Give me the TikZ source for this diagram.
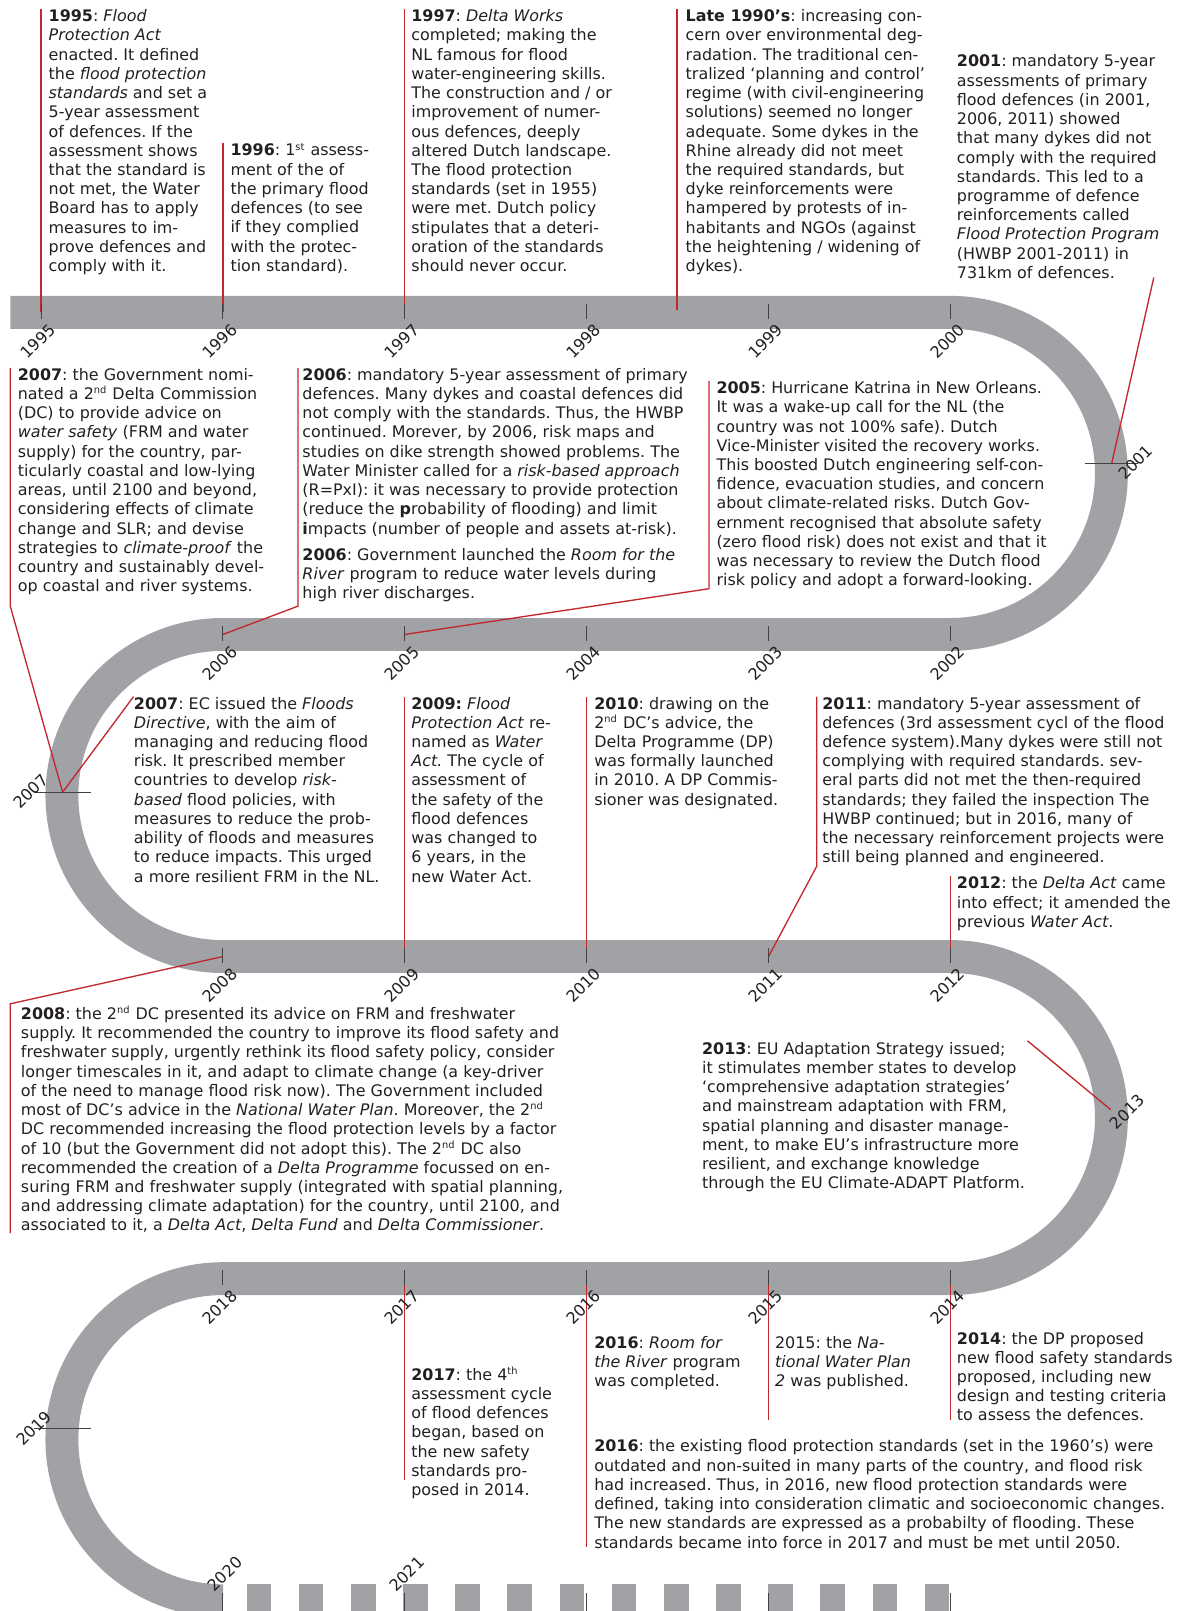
\documentclass[tikz,border=0pt]{standalone}
\usepackage{fontspec}
\setmainfont{DejaVu Sans}
\frenchspacing

\definecolor{trackgray}{RGB}{161,162,166}
\definecolor{calloutred}{RGB}{193,39,45}
\definecolor{inkgray}{RGB}{35,31,32}

% small raised ordinal endings
\newcommand{\ordsup}[1]{\textsuperscript{\fontsize{4.8}{5}\selectfont #1}}

\begin{document}
\begin{tikzpicture}[x=0.5pt, y=0.5pt,
  track/.style={line width=16pt, trackgray},
  callout/.style={calloutred, line width=0.65pt},
  tick/.style={inkgray!85, line width=0.5pt},
  yearlabel/.style={rotate=45, inner sep=0pt, text=inkgray, font=\fontsize{7.8}{9}\selectfont},
  event/.style={anchor=north west, align=left, inner sep=0pt, text=inkgray, font=\fontsize{7.75}{9.35}\selectfont}]

\useasboundingbox (0,0) rectangle (1145,-1568);
\clip (0,0) rectangle (1145,-1568);

% The winding track
\draw[track] (10,-304) -- (925,-304)
  arc[start angle=90, end angle=-90, radius=156.75] -- (217,-617.5)
  arc[start angle=90, end angle=270, radius=156.75] -- (925,-931)
  arc[start angle=90, end angle=-90, radius=156.75] -- (217,-1244.5)
  arc[start angle=90, end angle=270, radius=156.75];
% future years, dashed
\foreach \i in {0,...,13}
  \fill[trackgray] ({240+50.77*\i},-1542) rectangle ++(24,-32);

% Year positions on the track
\foreach \yr [count=\i from 0] in {1995,...,2000}
  \coordinate (y\yr) at ({40+177*\i},-304);
\foreach \yr [count=\i from 0] in {2002,...,2006}
  \coordinate (y\yr) at ({925-177*\i},-617.5);
\foreach \yr [count=\i from 0] in {2008,...,2012}
  \coordinate (y\yr) at ({217+177*\i},-931);
\foreach \yr [count=\i from 0] in {2014,...,2018}
  \coordinate (y\yr) at ({925-177*\i},-1244.5);
\coordinate (y2020) at (217,-1558);
\coordinate (y2021) at (394,-1558);
\coordinate (y2001) at (1082,-451);
\coordinate (y2007) at (61,-771);
\coordinate (y2013) at (1081,-1080);
\coordinate (y2019) at (61,-1390);
\coordinate (late90) at (659,-302);

% Events
\node[event] (e1995) at (47,-9) {\textbf{1995}: \emph{Flood}\\
\emph{Protection Act}\\
enacted. It defined\\
the \emph{flood protection}\\
\emph{standards} and set a\\
5-year assessment\\
of defences. If the\\
assessment shows\\
that the standard is\\
not met, the Water\\
Board has to apply\\
measures to im-\\
prove defences and\\
comply with it.};

\node[event] (e1996) at (224,-139) {\textbf{1996}: 1\ordsup{st} assess-\\
ment of the of\\
the primary flood\\
defences (to see\\
if they complied\\
with the protec-\\
tion standard).};

\node[event] (e1997) at (400,-9) {\textbf{1997}: \emph{Delta Works}\\
completed; making the\\
NL famous for flood\\
water-engineering skills.\\
The construction and / or\\
improvement of numer-\\
ous defences, deeply\\
altered Dutch landscape.\\
The flood protection\\
standards (set in 1955)\\
were met. Dutch policy\\
stipulates that a deteri-\\
oration of the standards\\
should never occur.};

\node[event] (e1998) at (667,-9) {\textbf{Late 1990’s}: increasing con-\\
cern over environmental deg-\\
radation. The traditional cen-\\
tralized ‘planning and control’\\
regime (with civil-engineering\\
solutions) seemed no longer\\
adequate. Some dykes in the\\
Rhine already did not meet\\
the required standards, but\\
dyke reinforcements were\\
hampered by protests of in-\\
habitants and NGOs (against\\
the heightening / widening of\\
dykes).};

\node[event] (e2001) at (931,-53) {\textbf{2001}: mandatory 5-year\\
assessments of primary\\
flood defences (in 2001,\\
2006, 2011) showed\\
that many dykes did not\\
comply with the required\\
standards. This led to a\\
programme of defence\\
reinforcements called\\
\emph{Flood Protection Program}\\
(HWBP 2001-2011) in\\
731km of defences.};

\node[event] (e2007a) at (17,-358) {\textbf{2007}: the Government nomi-\\
nated a 2\ordsup{nd} Delta Commission\\
(DC) to provide advice on\\
\emph{water safety} (FRM and water\\
supply) for the country, par-\\
ticularly coastal and low-lying\\
areas, until 2100 and beyond,\\
considering effects of climate\\
change and SLR; and devise\\
strategies to \emph{climate-proof} the\\
country and sustainably devel-\\
op coastal and river systems.};

\node[event] (e2006) at (294,-358) {\textbf{2006}: mandatory 5-year assessment of primary\\
defences. Many dykes and coastal defences did\\
not comply with the standards. Thus, the HWBP\\
continued. Morever, by 2006, risk maps and\\
studies on dike strength showed problems. The\\
Water Minister called for a \emph{risk-based approach}\\
(R=PxI): it was necessary to provide protection\\
(reduce the \textbf{p}robability of flooding) and limit\\
\textbf{i}mpacts (number of people and assets at-risk).\\[3.5pt]
\textbf{2006}: Government launched the \emph{Room for the}\\
\emph{River} program to reduce water levels during\\
high river discharges.};

\node[event] (e2005) at (697,-371) {\textbf{2005}: Hurricane Katrina in New Orleans.\\
It was a wake-up call for the NL (the\\
country was not 100\% safe). Dutch\\
Vice-Minister visited the recovery works.\\
This boosted Dutch engineering self-con-\\
fidence, evacuation studies, and concern\\
about climate-related risks. Dutch Gov-\\
ernment recognised that absolute safety\\
(zero flood risk) does not exist and that it\\
was necessary to review the Dutch flood\\
risk policy and adopt a forward-looking.};

\node[event] (e2007b) at (130,-678) {\textbf{2007}: EC issued the \emph{Floods}\\
\emph{Directive}, with the aim of\\
managing and reducing flood\\
risk. It prescribed member\\
countries to develop \emph{risk-}\\
\emph{based} flood policies, with\\
measures to reduce the prob-\\
ability of floods and measures\\
to reduce impacts. This urged\\
a more resilient FRM in the NL.};

\node[event] (e2009) at (400,-678) {\textbf{2009:} \emph{Flood}\\
\emph{Protection Act} re-\\
named as \emph{Water}\\
\emph{Act.} The cycle of\\
assessment of\\
the safety of the\\
flood defences\\
was changed to\\
6 years, in the\\
new Water Act.};

\node[event] (e2010) at (578,-678) {\textbf{2010}: drawing on the\\
2\ordsup{nd} DC’s advice, the\\
Delta Programme (DP)\\
was formally launched\\
in 2010. A DP Commis-\\
sioner was designated.};

\node[event] (e2011) at (800,-678) {\textbf{2011}: mandatory 5-year assessment of\\
defences (3rd assessment cycl of the flood\\
defence system).Many dykes were still not\\
complying with required standards. sev-\\
eral parts did not met the then-required\\
standards; they failed the inspection The\\
HWBP continued; but in 2016, many of\\
the necessary reinforcement projects were\\
still being planned and engineered.};

\node[event] (e2012) at (931,-853) {\textbf{2012}: the \emph{Delta Act} came\\
into effect; it amended the\\
previous \emph{Water Act}.};

\node[event] (e2008) at (20,-979) {\textbf{2008}: the 2\ordsup{nd} DC presented its advice on FRM and freshwater\\
supply. It recommended the country to improve its flood safety and\\
freshwater supply, urgently rethink its flood safety policy, consider\\
longer timescales in it, and adapt to climate change (a key-driver\\
of the need to manage flood risk now). The Government included\\
most of DC’s advice in the \emph{National Water Plan}. Moreover, the 2\ordsup{nd}\\
DC recommended increasing the flood protection levels by a factor\\
of 10 (but the Government did not adopt this). The 2\ordsup{nd} DC also\\
recommended the creation of a \emph{Delta Programme} focussed on en-\\
suring FRM and freshwater supply (integrated with spatial planning,\\
and addressing climate adaptation) for the country, until 2100, and\\
associated to it, a \emph{Delta Act}, \emph{Delta Fund} and \emph{Delta Commissioner}.};

\node[event] (e2013) at (683,-1014) {\textbf{2013}: EU Adaptation Strategy issued;\\
it stimulates member states to develop\\
‘comprehensive adaptation strategies’\\
and mainstream adaptation with FRM,\\
spatial planning and disaster manage-\\
ment, to make EU’s infrastructure more\\
resilient, and exchange knowledge\\
through the EU Climate-ADAPT Platform.};

\node[event] (e2017) at (400,-1330) {\textbf{2017}: the 4\ordsup{th}\\
assessment cycle\\
of flood defences\\
began, based on\\
the new safety\\
standards pro-\\
posed in 2014.};

\node[event] (e2016a) at (578,-1300) {\textbf{2016}: \emph{Room for}\\
\emph{the River} program\\
was completed.};

\node[event] (e2015) at (754,-1300) {2015: the \emph{Na-}\\
\emph{tional Water Plan}\\
\emph{2} was published.};

\node[event] (e2014) at (931,-1296) {\textbf{2014}: the DP proposed\\
new flood safety standards\\
proposed, including new\\
design and testing criteria\\
to assess the defences.};

\node[event] (e2016b) at (578,-1401) {\textbf{2016}: the existing flood protection standards (set in the 1960’s) were\\
outdated and non-suited in many parts of the country, and flood risk\\
had increased. Thus, in 2016, new flood protection standards were\\
defined, taking into consideration climatic and socioeconomic changes.\\
The new standards are expressed as a probabilty of flooding. These\\
standards became into force in 2017 and must be met until 2050.};

% Bends of the callout lines
\coordinate (k2007) at (10,-590);
\coordinate (k2006) at (290,-590);
\coordinate (k2005) at (690,-573);
\coordinate (k2011) at (795,-843);
\coordinate (k2008) at (10,-977);
\coordinate (c2001) at (1123,-270);
\coordinate (c2013) at (1000,-1013);

% Callout lines
\draw[callout] (y1995) -- (y1995 |- e1995.north);
\draw[callout] (y1996) -- (y1996 |- e1996.north);
\draw[callout] (y1997) -- (y1997 |- e1997.north);
\draw[callout] (late90) -- (late90 |- e1998.north);
\draw[callout] (y2001) -- (c2001);
\draw[callout] (y2007) -- (k2007) -- (k2007 |- e2007a.north);
\draw[callout] (y2006) -- (k2006) -- (k2006 |- e2006.north);
\draw[callout] (y2005) -- (k2005) -- (k2005 |- e2005.north);
\draw[callout] (y2007) -- (e2007b.north west);
\draw[callout] (y2009) -- (y2009 |- e2009.north);
\draw[callout] (y2010) -- (y2010 |- e2010.north);
\draw[callout] (y2011) -- (k2011) -- (k2011 |- e2011.north);
\draw[callout] (y2012) -- (y2012 |- e2012.north);
\draw[callout] (y2008) -- (k2008) -- (k2008 |- e2008.south);
\draw[callout] (y2013) -- (c2013);
\draw[callout] (y2017) -- ++(0,-196);
\draw[callout] (y2016) -- ++(0,-261);
\draw[callout] (y2015) -- ++(0,-138);
\draw[callout] (y2014) -- ++(0,-138);

% Ticks and year labels
\foreach \yr in {1995,1996,1997,1998,1999,2000,2002,2003,2004,2005,2006,
    2008,2009,2010,2011,2012,2014,2015,2016,2017,2018} {
  \draw[tick] (y\yr) ++(0,8) -- ++(0,-14);
  \node[yearlabel] (lab\yr) at ([shift={(-3,-28)}]y\yr) {\yr};
}
\foreach \x in {217,394,571,748,925}
  \draw[tick] (\x,-1550) -- ++(0,-20);
\node[yearlabel] (lab2020) at ([shift={(2,26)}]y2020) {2020};
\node[yearlabel] (lab2021) at ([shift={(2,26)}]y2021) {2021};

\draw[tick] (y2001) ++(-26,0) -- ++(52,0);
\draw[tick] (y2007) ++(-28,0) -- ++(56,0);
\draw[tick] (y2019) ++(-28,0) -- ++(56,0);
\node[yearlabel] (lab2001) at (1105,-450) {2001};
\node[yearlabel] (lab2007) at (30,-770) {2007};
\node[yearlabel] (lab2013) at (1097,-1082) {2013};
\node[yearlabel] (lab2019) at (33,-1390) {2019};

\end{tikzpicture}
\end{document}
